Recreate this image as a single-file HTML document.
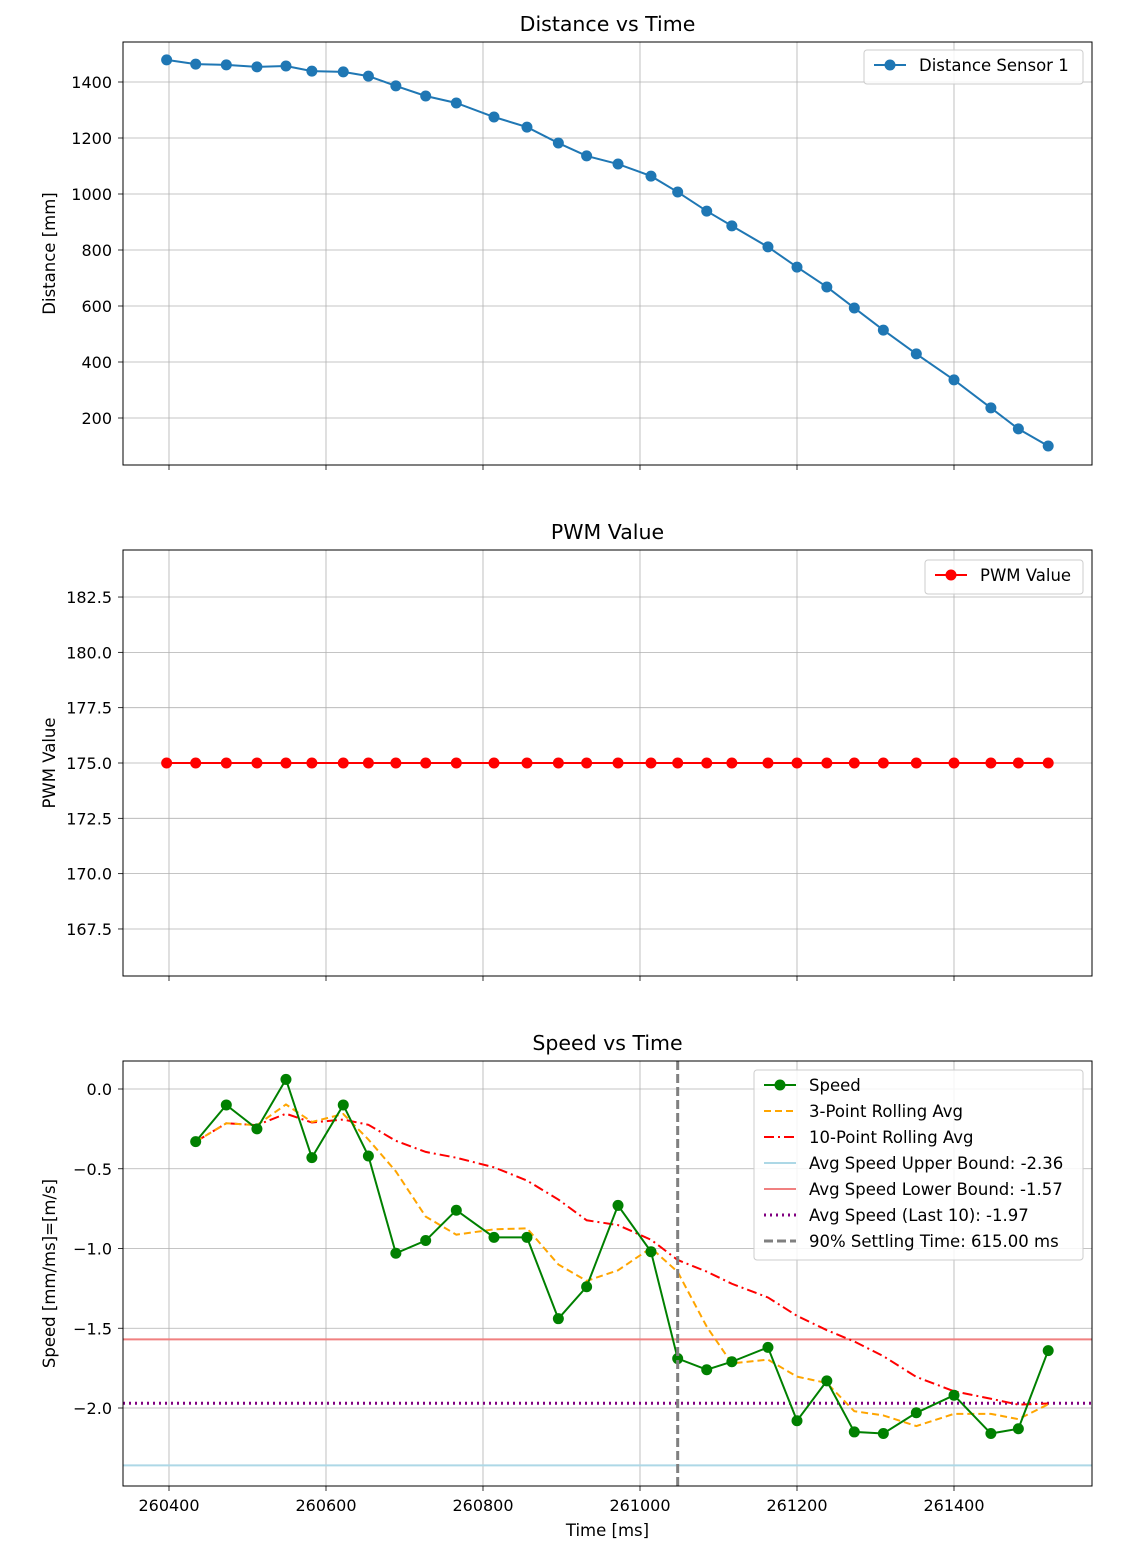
<!DOCTYPE html>
<html><head><meta charset="utf-8"><style>
body{margin:0;background:#fff;}
svg{display:block;font-family:"DejaVu Sans","Liberation Sans",sans-serif;}
</style></head><body>
<svg id="fig" width="1122" height="1550" viewBox="0 0 1122 1550" xmlns="http://www.w3.org/2000/svg"></svg>
<script>
const times=[260397,260434,260473,260512,260549,260582,260622,260654,260689,260727,260766,260814,260856,260896,260932,260972,261014,261048,261085,261117,261163,261200,261238,261273,261310,261352,261400,261447,261482,261520];
const distance=[1479,1464,1461,1454,1457,1439,1436,1421,1386,1350,1325,1275,1239,1182,1136,1107,1064,1007,939,886,811,739,668,593,514,429,336,236,161,100];
const pwm=[175,175,175,175,175,175,175,175,175,175,175,175,175,175,175,175,175,175,175,175,175,175,175,175,175,175,175,175,175,175];
const speed=[-0.33,-0.10,-0.25,0.06,-0.43,-0.10,-0.42,-1.03,-0.95,-0.76,-0.93,-0.93,-1.44,-1.24,-0.73,-1.02,-1.69,-1.76,-1.71,-1.62,-2.08,-1.83,-2.15,-2.16,-2.03,-1.92,-2.16,-2.13,-1.64];
const xTicks=[260400,260600,260800,261000,261200,261400];
const distTicks=[200,400,600,800,1000,1200,1400];
const pwmTicks=[167.5,170.0,172.5,175.0,177.5,180.0,182.5];
const speedTicks=[-2.0,-1.5,-1.0,-0.5,0.0];
const upperBound=-2.36, lowerBound=-1.57, avgSpeed=-1.97, settleTime=261048;

const NS="http://www.w3.org/2000/svg";
const svg=document.getElementById('fig');
function el(tag,attrs,parent,text){const e=document.createElementNS(NS,tag);for(const k in attrs)e.setAttribute(k,attrs[k]);if(text!==undefined)e.textContent=text;(parent||svg).appendChild(e);return e;}
const L=123,R=1092;
const X=t=>169+(t-260400)*0.785;

function panel(name,top,bot,yMap,ticks,fmt,title,ylabel,showX){
  const g=el('g',{});
  
  
  xTicks.forEach(t=>{const l=el('line',{x1:X(t),x2:X(t),y1:top,y2:bot,stroke:'#b0b0b0','stroke-width':0.8},g);
    el('line',{x1:X(t),x2:X(t),y1:bot,y2:bot+5,stroke:'#000','stroke-width':0.8},g);
    if(showX){const tx=el('text',{x:X(t),y:bot+25,'text-anchor':'middle','font-size':16},g,String(t));}
  });
  ticks.forEach(v=>{const y=yMap(v);const l=el('line',{x1:L,x2:R,y1:y,y2:y,stroke:'#b0b0b0','stroke-width':0.8},g);
    el('line',{x1:L-5,x2:L,y1:y,y2:y,stroke:'#000','stroke-width':0.8},g);
    const tx=el('text',{x:L-11,y:y+6,'text-anchor':'end','font-size':16},g,fmt(v));});
  const tt=el('text',{x:(L+R)/2,y:top-11,'text-anchor':'middle','font-size':20.5},g,title);
  const yl=el('text',{x:0,y:0,'text-anchor':'middle','font-size':16.5,transform:`translate(55,${(top+bot)/2}) rotate(-90)`},g,ylabel);
  return g;
}
function frame(g,top,bot){const r=el('rect',{x:L,y:top,width:R-L,height:bot-top,fill:'none',stroke:'#000','stroke-width':1},g);}
function series(g,xs,ys,color,name,marker,dash,width){
  const p=el('polyline',{points:xs.map((x,i)=>x+','+ys[i]).join(' '),fill:'none',stroke:color,'stroke-width':width||2},g);
  if(dash)p.setAttribute('stroke-dasharray',dash);
  
  if(marker)xs.forEach((x,i)=>{const c=el('circle',{cx:x,cy:ys[i],r:5.5,fill:color},g);});
}
function legend(g,x,y,w,items){
  const h=items.length*26+8;
  const b=el('rect',{x:x,y:y,width:w,height:h,fill:'#fff','fill-opacity':0.85,stroke:'#ccc',rx:3},g);
  items.forEach((it,i)=>{const cy=y+15+i*26;
    const l=el('line',{x1:x+10,x2:x+42,y1:cy,y2:cy,stroke:it.c,'stroke-width':it.w||2},g);if(it.d)l.setAttribute('stroke-dasharray',it.d);
    
    if(it.m)el('circle',{cx:x+26,cy:cy,r:5.5,fill:it.c},g);
    const t=el('text',{x:x+55,y:cy+6,'font-size':16.5},g,it.t);});
}

const yD=v=>82+(1400-v)*0.28;
let g1=panel('distance-chart',42,465,yD,distTicks,v=>String(v),'Distance vs Time','Distance [mm]',false);
series(g1,times.map(X),distance.map(yD),'#1f77b4','distance-sensor-1',true);
frame(g1,42,465);
legend(g1,864,50,219,[{c:'#1f77b4',t:'Distance Sensor 1',m:true}]);

const yP=v=>763-(v-175)*22.13;
let g2=panel('pwm-chart',550,976,yP,pwmTicks,v=>v.toFixed(1),'PWM Value','PWM Value',false);
series(g2,times.map(X),pwm.map(yP),'#ff0000','pwm-value',true);
frame(g2,550,976);
legend(g2,925,560,158,[{c:'#ff0000',t:'PWM Value',m:true}]);

const yS=v=>1089-v*159.5;
let g3=panel('speed-chart',1061,1486,yS,speedTicks,v=>(v<0?'\u2212':'')+Math.abs(v).toFixed(1),'Speed vs Time','Speed [mm/ms]=[m/s]',true);
const xl=el('text',{x:(L+R)/2,y:1536,'text-anchor':'middle','font-size':16.5},g3,'Time [ms]');
const st=times.slice(1);
function roll(a,n){return a.map((_,i)=>{const s=a.slice(Math.max(0,i-n+1),i+1);return s.reduce((p,c)=>p+c,0)/s.length;});}
function hline(v,c,name,dash,w){const l=el('line',{x1:L,x2:R,y1:yS(v),y2:yS(v),stroke:c,'stroke-width':w||2},g3);if(dash)l.setAttribute('stroke-dasharray',dash);}
hline(upperBound,'#add8e6','upper-bound-line');
hline(lowerBound,'#f08080','lower-bound-line');
hline(avgSpeed,'#800080','avg-speed-line','2,4',3);
series(g3,st.map(X),roll(speed,10).map(yS),'#ff0000','rolling-10',false,'10,4,2,4');
series(g3,st.map(X),roll(speed,3).map(yS),'#ffa500','rolling-3',false,'7,4');
series(g3,st.map(X),speed.map(yS),'#008000','speed',true);
const sl=el('line',{x1:X(settleTime),x2:X(settleTime),y1:1061,y2:1486,stroke:'#808080','stroke-width':3,'stroke-dasharray':'9,4'},g3);
frame(g3,1061,1486);
legend(g3,754,1070,329,[
 {c:'#008000',t:'Speed',m:true},
 {c:'#ffa500',t:'3-Point Rolling Avg',d:'7,4'},
 {c:'#ff0000',t:'10-Point Rolling Avg',d:'10,4,2,4'},
 {c:'#add8e6',t:'Avg Speed Upper Bound: -2.36'},
 {c:'#f08080',t:'Avg Speed Lower Bound: -1.57'},
 {c:'#800080',t:'Avg Speed (Last 10): -1.97',d:'2,4',w:3},
 {c:'#808080',t:'90% Settling Time: 615.00 ms',d:'9,4',w:3}]);
</script>
</body></html>
